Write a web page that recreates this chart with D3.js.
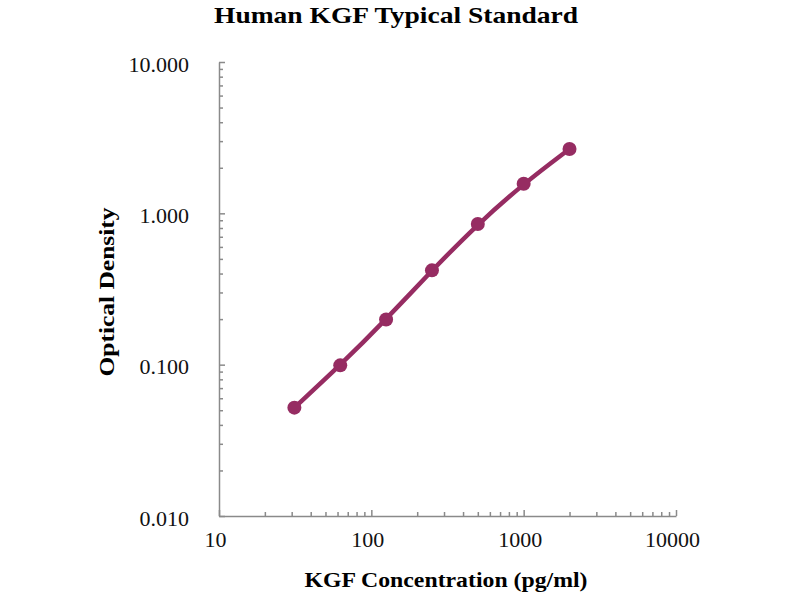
<!DOCTYPE html>
<html>
<head>
<meta charset="utf-8">
<script src="https://cdn.jsdelivr.net/npm/d3@7"></script>
<style>
  body { margin: 0; background: #fff; }
  text { font-family: "Liberation Serif", "Times New Roman", serif; }
  .axis path, .axis line { stroke: #8a8a8a; stroke-width: 1.5; }
  .axis text { fill: #111; font-size: 22px; }
</style>
</head>
<body>
<script>
// données
var concentration = [31.25, 62.5, 125, 250, 500, 1000, 2000];
var density = [0.052, 0.099, 0.199, 0.42, 0.85, 1.57, 2.66];
var xMajor = [10, 100, 1000, 10000];
var yMajor = [0.01, 0.1, 1, 10];

var width = 800, height = 600;
var color = "#962c62";

var svg = d3.select("body").append("svg")
    .attr("width", width)
    .attr("height", height);

var x = d3.scaleLog().domain([10, 10000]).range([219, 676]);
var y = d3.scaleLog().domain([0.01, 10]).range([516, 62]);

// ticks mineurs 2..9 pour chaque décade
function minorTicks(majors) {
  var out = [];
  majors.slice(0, -1).forEach(function(m) {
    for (var k = 2; k <= 9; k++) out.push(m * k);
  });
  return out;
}

// axe x
svg.append("g")
    .attr("class", "axis")
    .attr("transform", "translate(0," + y(0.01) + ")")
    .call(d3.axisBottom(x).tickValues(minorTicks(xMajor)).tickSize(-4).tickSizeOuter(0).tickFormat(""));

var xAxisMajor = svg.append("g")
    .attr("class", "axis")
    .attr("transform", "translate(0," + y(0.01) + ")")
    .call(d3.axisBottom(x).tickValues(xMajor).tickSize(-6).tickSizeOuter(0).tickPadding(0)
      .tickFormat(d3.format("d")));
xAxisMajor.select(".domain").remove();
xAxisMajor.selectAll("text").attr("dy", "1.4em").attr("dx", -4);

// axe y
svg.append("g")
    .attr("class", "axis")
    .attr("transform", "translate(" + x(10) + ",0)")
    .call(d3.axisLeft(y).tickValues(minorTicks(yMajor)).tickSize(-4).tickSizeOuter(0).tickFormat(""));

var yAxisMajor = svg.append("g")
    .attr("class", "axis")
    .attr("transform", "translate(" + x(10) + ",0)")
    .call(d3.axisLeft(y).tickValues(yMajor).tickSize(-6).tickSizeOuter(0).tickPadding(30)
      .tickFormat(d3.format(".3f")));
yAxisMajor.select(".domain").remove();
yAxisMajor.selectAll("text").attr("dy", "0.42em").attr("x", -30);

// courbe
var pts = concentration.map(function(c, i) { return [c, density[i]]; });

var line = d3.line()
    .x(function(d) { return x(d[0]); })
    .y(function(d) { return y(d[1]); })
    .curve(d3.curveBasis);

svg.append("path")
    .datum(pts)
    .attr("fill", "none")
    .attr("stroke", color)
    .attr("stroke-width", 4.5)
    .attr("d", line);

svg.selectAll("circle.pt")
    .data(pts)
    .enter()
    .append("circle")
    .attr("class", "pt")
    .attr("cx", function(d) { return x(d[0]); })
    .attr("cy", function(d) { return y(d[1]); })
    .attr("r", 7)
    .attr("fill", color);

// titres
svg.append("text")
    .attr("x", 396).attr("y", 23)
    .attr("text-anchor", "middle")
    .style("font-size", "24px").style("font-weight", "bold")
    .attr("textLength", 364).attr("lengthAdjust", "spacingAndGlyphs")
    .text("Human KGF Typical Standard");

svg.append("text")
    .attr("x", 446).attr("y", 587)
    .attr("text-anchor", "middle")
    .style("font-size", "22px").style("font-weight", "bold")
    .attr("textLength", 283).attr("lengthAdjust", "spacingAndGlyphs")
    .text("KGF Concentration (pg/ml)");

svg.append("text")
    .attr("transform", "translate(114,292) rotate(-90)")
    .attr("text-anchor", "middle")
    .style("font-size", "22px").style("font-weight", "bold")
    .attr("textLength", 169).attr("lengthAdjust", "spacingAndGlyphs")
    .text("Optical Density");
</script>
</body>
</html>
